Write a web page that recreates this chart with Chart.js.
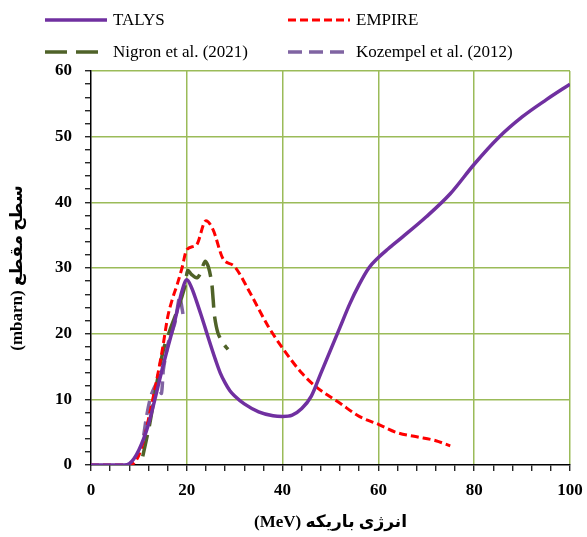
<!DOCTYPE html>
<html>
<head>
<meta charset="utf-8">
<script src="https://cdn.jsdelivr.net/npm/chart.js@4.4.1/dist/chart.umd.min.js"></script>
<style>
  html, body { margin: 0; padding: 0; background: #fff; }
  #wrap { position: relative; width: 587px; height: 537px; }
  #legend { position: absolute; left: 0; top: 0; width: 587px; height: 66px; font-family: "Liberation Serif", serif; font-size: 17px; color: #000; }
  .item { position: absolute; display: flex; align-items: center; white-space: nowrap; }
  .item svg { margin-right: 6px; }
</style>
</head>
<body>
<div id="wrap">
  <canvas id="chart"></canvas>
  <div id="legend"></div>
</div>
<script>
// TALYS
const talysE = [0, 7, 8, 9, 10, 11, 12, 13, 14, 15, 16, 17, 18, 19, 20, 21, 22, 23, 24, 25, 26, 27, 28, 29, 30, 32, 35, 38, 40, 42, 44, 46, 48, 50, 52, 54, 56, 58, 60, 62, 65, 70, 75, 80, 85, 90, 95, 100]
const talysXS = [0, 0, 0.2, 1, 2.3, 4, 6.2, 9, 12, 15, 17.8, 20.5, 23.5, 26.5, 28.2, 27, 25, 22.8, 20.5, 18.2, 16, 14, 12.5, 11.3, 10.5, 9.3, 8.1, 7.5, 7.4, 7.6, 8.6, 10.5, 14, 17.5, 21, 24.5, 27.5, 30, 31.6, 32.9, 34.7, 37.8, 41.3, 45.8, 49.8, 53, 55.6, 58]

// EMPIRE
const empireE = [0, 8, 9, 10, 11, 12, 13, 14, 15, 16, 17, 18, 19, 20, 22, 24, 25.5, 27.5, 30, 33, 37, 40, 44, 47, 52, 56, 60, 64, 68, 72, 75]
const empireXS = [0, 0, 0.3, 1.5, 3.8, 7, 10.4, 14, 18, 22.5, 25.3, 27.5, 30, 32.8, 33.5, 37.2, 35.8, 31.5, 30.2, 26.5, 21.1, 17.8, 14, 11.9, 9.4, 7.4, 6.2, 4.9, 4.3, 3.7, 2.9]

// Nigron et al. (2021)
const nigronE = [10.8, 12.3, 13.5, 15.1, 16.5, 18.2, 19.6, 20.2, 21, 22, 22.7, 23.8, 24.5, 25.2, 25.5, 25.8, 26.5, 27.6, 28.6]
const nigronXS = [1.3, 6.4, 11.5, 17.5, 20.6, 23.9, 27.2, 29.6, 29, 28.5, 29, 31, 30.2, 27.7, 25.2, 22.6, 20.1, 18.5, 17.6]

// Kozempel et al. (2012)
const kozE = [11, 11.6, 12.5, 13.7, 14.7, 15.1, 16.1, 17.5, 18.5, 19.2]
const kozXS = [4.5, 7.4, 10.5, 12.4, 10.9, 14.5, 18.5, 21.6, 25.6, 23]

const xTicks = [0, 20, 40, 60, 80, 100]
const yTicks = [0, 10, 20, 30, 40, 50, 60]

const xTitle = "(MeV) انرژی باریکه"
const yTitle = "(mbarn) سطح مقطع"

const toPoints = (xs, ys) => xs.map((x, i) => ({ x: x, y: ys[i] }))

const gridGreen = "#9bbb59"
const font = "'Liberation Serif', 'DejaVu Sans', serif"

const ctx = document.getElementById("chart").getContext("2d")

const chart = new Chart(ctx, {
  type: "line",
  data: {
    datasets: [
      {
        label: "TALYS",
        data: toPoints(talysE, talysXS),
        borderColor: "#7030a0",
        borderWidth: 3.5,
        cubicInterpolationMode: "monotone",
        pointRadius: 0,
      },
      {
        label: "EMPIRE",
        data: toPoints(empireE, empireXS),
        borderColor: "#ff0000",
        borderWidth: 3,
        borderDash: [8, 4],
        cubicInterpolationMode: "monotone",
        pointRadius: 0,
      },
      {
        label: "Nigron et al. (2021)",
        data: toPoints(nigronE, nigronXS),
        borderColor: "#4f6228",
        borderWidth: 3.5,
        borderDash: [22, 9],
        tension: 0.3,
        pointRadius: 0,
      },
      {
        label: "Kozempel et al. (2012)",
        data: toPoints(kozE, kozXS),
        borderColor: "#8064a2",
        borderWidth: 3.5,
        borderDash: [14, 7],
        tension: 0.2,
        pointRadius: 0,
      },
    ],
  },
  options: {
    responsive: true,
    maintainAspectRatio: false,
    animation: false,
    layout: { padding: { top: 71, right: 0, left: 0, bottom: 0 } },
    plugins: {
      legend: { display: false },
      tooltip: { enabled: false },
    },
    scales: {
      x: {
        type: "linear",
        min: 0,
        max: 100,
        afterFit: (scale) => {
          scale.height = 72
          scale.paddingRight = 17
        },
        ticks: {
          stepSize: 4,
          autoSkip: false,
          maxRotation: 0,
          padding: 9,
          color: "#000",
          font: { family: font, size: 17, weight: "bold" },
          callback: (v) => (xTicks.includes(v) ? v : ""),
        },
        grid: {
          color: (c) => (c.tick && xTicks.includes(c.tick.value) && c.tick.value !== 0 ? gridGreen : "rgba(0,0,0,0)"),
          lineWidth: 1.5,
          tickColor: "#000",
          tickLength: 6,
          tickWidth: 1.2,
        },
        border: { color: "#000", width: 1.5 },
        title: {
          display: true,
          text: xTitle,
          color: "#000",
          font: { family: font, size: 17, weight: "bold" },
          padding: { top: 0, bottom: 4 },
        },
      },
      y: {
        min: 0,
        max: 60,
        afterFit: (scale) => { scale.width = 91 },
        ticks: {
          stepSize: 2,
          autoSkip: false,
          padding: 13,
          color: "#000",
          font: { family: font, size: 17, weight: "bold" },
          callback: (v) => (yTicks.includes(v) ? v : ""),
        },
        grid: {
          color: (c) => (c.tick && yTicks.includes(c.tick.value) && c.tick.value !== 0 ? gridGreen : "rgba(0,0,0,0)"),
          lineWidth: 1.5,
          tickColor: "#000",
          tickLength: 6,
          tickWidth: 1.2,
        },
        border: { color: "#000", width: 1.5 },
        title: {
          display: true,
          text: yTitle,
          color: "#000",
          font: { family: font, size: 17, weight: "bold" },
          padding: { top: 7, bottom: 0 },
        },
      },
    },
  },
})

// legend in two columns, built from the datasets
const legendPos = [
  { left: 45, top: 9 },
  { left: 288, top: 9 },
  { left: 45, top: 41 },
  { left: 288, top: 41 },
]
const legendEl = document.getElementById("legend")
chart.data.datasets.forEach((ds, i) => {
  const item = document.createElement("div")
  item.className = "item"
  item.style.left = legendPos[i].left + "px"
  item.style.top = legendPos[i].top + "px"
  const dash = ds.borderDash ? ds.borderDash.join(",") : "none"
  item.innerHTML =
    '<svg width="62" height="22"><line x1="0" y1="11" x2="62" y2="11" stroke="' + ds.borderColor +
    '" stroke-width="' + ds.borderWidth + '" stroke-dasharray="' + dash + '"/></svg>'
  const label = document.createElement("span")
  label.textContent = ds.label
  item.appendChild(label)
  legendEl.appendChild(item)
})
</script>
</body>
</html>
